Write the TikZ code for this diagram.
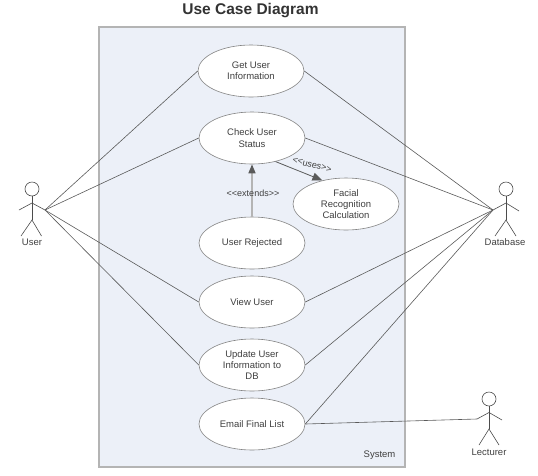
\documentclass[tikz,border=0pt]{standalone}
\usepackage{fontspec}
\setmainfont{Liberation Sans}
\usetikzlibrary{shapes.geometric,arrows.meta}
\definecolor{sysfill}{HTML}{ECF0F8}
\definecolor{sysline}{HTML}{B4B4B4}
\definecolor{assocline}{HTML}{5A5A5A}
\definecolor{labeltext}{HTML}{404040}
\tikzset{
  usecase/.style={draw=assocline!75,fill=white,ellipse,line width=0.6pt,inner sep=0pt,
    minimum width=106pt,minimum height=52pt,align=center,text=labeltext,
    font=\fontsize{9.5}{11.3}\selectfont},
  tag/.style={text=labeltext,inner sep=0pt,font=\fontsize{9.5}{11}\selectfont},
  actor/.style={line width=0.6pt,draw=black!70},
  assoc/.style={line width=0.6pt,draw=assocline},
}
\begin{document}
\begin{tikzpicture}[x=1pt,y=-1pt]
\useasboundingbox (0,0) rectangle (538,475);
% coordinates
\coordinate (UserHand)     at ( 45,210);
\coordinate (DatabaseHand) at (493,210);
\coordinate (LecturerHand) at (477,419);
% system
\node[font=\bfseries\fontsize{15.5}{15.5}\selectfont,text=black!80,inner sep=0pt] (Title) at (250.5,10.5) {Use Case Diagram};
\draw[sysline,fill=sysfill,line width=1.5pt] (99,27) rectangle (405,467);
\node[tag] (System) at (379.5,455) {System};
% use cases
\node[usecase] (GetUser)   at (251, 71) {Get User\\Information};
\node[usecase] (CheckUser) at (252,138) {Check User\\Status};
\node[usecase] (Facial)    at (346,204) {Facial\\Recognition\\Calculation};
\node[usecase] (Rejected)  at (252,243) {User Rejected};
\node[usecase] (ViewUser)  at (252,302) {View User};
\node[usecase] (Update)    at (252,365) {Update User\\Information to\\DB};
\node[usecase] (Email)     at (252,424) {Email Final List};
% user
\draw[actor] (32,189) circle (7);
\draw[actor] (32,196) -- (32,220);
\draw[actor] (19,210) -- (32,203) -- (UserHand);
\draw[actor] (21,236) -- (32,220) -- (41.5,236);
\node[tag] (User) at (32,242) {User};
% database
\draw[actor] (506,189) circle (7);
\draw[actor] (506,196) -- (506,220);
\draw[actor] (DatabaseHand) -- (506,203) -- (519,211);
\draw[actor] (495,236) -- (506,220) -- (516,236);
\node[tag] (Database) at (505,242) {Database};
% lecturer
\draw[actor] (489,399) circle (7);
\draw[actor] (489,406) -- (489,429);
\draw[actor] (LecturerHand) -- (489,412.5) -- (502,420);
\draw[actor] (479,445) -- (489,429) -- (499,445);
\node[tag] (Lecturer) at (489,452) {Lecturer};
% associations
\draw[assoc] (UserHand) -- (GetUser.west);
\draw[assoc] (UserHand) -- (CheckUser.west);
\draw[assoc] (UserHand) -- (ViewUser.west);
\draw[assoc] (UserHand) -- (Update.west);
\draw[assoc] (DatabaseHand) -- (GetUser.east);
\draw[assoc] (DatabaseHand) -- (CheckUser.east);
\draw[assoc] (DatabaseHand) -- (ViewUser.east);
\draw[assoc] (DatabaseHand) -- (Update.east);
\draw[assoc] (DatabaseHand) -- (Email.east);
\draw[assoc] (LecturerHand) -- (Email.east);
% dependencies
\draw[sysline,line width=1.5pt,-{Triangle[length=9pt,width=7pt,color=assocline]}] (Rejected.north) -- (CheckUser.south);
\draw[assoc,line width=0.8pt,-{Triangle[length=10pt,width=8pt,color=assocline]}] (CheckUser.-45) -- (Facial.135);
\node[tag,font=\fontsize{9}{11}\selectfont] (Extends) at (253,193.5) {<{}<extends>{}>};
\node[tag,font=\fontsize{9}{11}\selectfont,rotate=-15] (Uses) at (312,165) {<{}<uses>{}>};
\end{tikzpicture}
\end{document}
